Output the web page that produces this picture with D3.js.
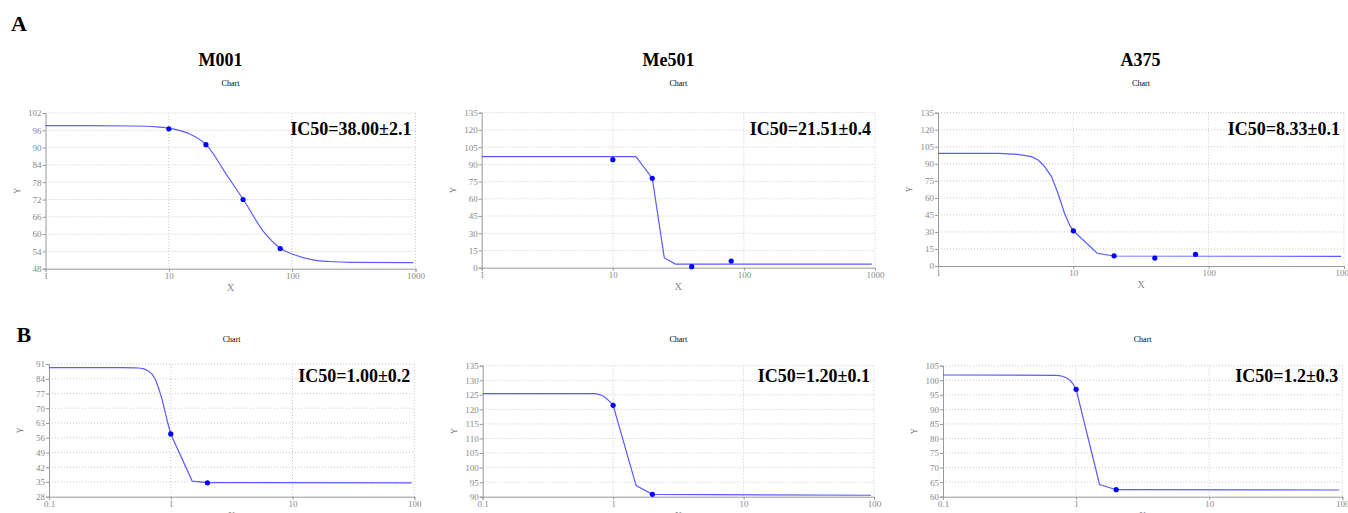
<!DOCTYPE html>
<html>
<head>
<meta charset="utf-8">
<script src="https://cdn.jsdelivr.net/npm/d3@7"></script>
<style>
  body { margin: 0; background: #fff; }
  svg { display: block; }
</style>
</head>
<body>
<div id="vis"></div>
<script>
// ---- data ----
const cellLines = ["M001", "Me501", "A375"]
const ic50Labels = ["IC50=38.00±2.1", "IC50=21.51±0.4", "IC50=8.33±0.1",
                    "IC50=1.00±0.2", "IC50=1.20±0.1", "IC50=1.2±0.3"]

// fitted curves (x, y)
const a1CurveX = [1, 2, 5, 8, 10, 15, 20, 30, 40, 60, 80, 100, 150, 200, 300, 960]
const a1CurveY = [97.6, 97.6, 97.5, 97.2, 96.7, 94.6, 91.1, 80, 72.1, 60.3, 55.1, 53.1, 51, 50.5, 50.2, 50.1]
const a2CurveX = [1, 15, 20, 24.7, 30, 944]
const a2CurveY = [96.8, 96.8, 78, 8.7, 3.2, 3.2]
const a3CurveX = [1, 2, 2.8, 3.9, 4.9, 5.5, 6.1, 6.9, 7.7, 8.6, 9.4, 10, 15, 20, 955]
const a3CurveY = [99.2, 99.2, 99.1, 98.3, 96.3, 93.3, 88, 78.7, 64, 46.4, 36, 31, 11.2, 8.8, 8.5]
const b1CurveX = [0.1, 0.4, 0.5, 0.55, 0.6, 0.65, 0.7, 0.75, 0.8, 0.85, 0.9, 0.95, 1, 1.5, 2, 95]
const b1CurveY = [89.3, 89.3, 89.2, 89.1, 88.7, 87.8, 86.3, 83.5, 79, 74, 68, 62.5, 57.8, 35.4, 34.7, 34.6]
const b2CurveX = [0.1, 0.7, 0.75, 0.8, 0.85, 0.9, 0.95, 1, 1.5, 2, 95]
const b2CurveY = [125.4, 125.4, 125.3, 125, 124.4, 123.5, 122.5, 121.4, 93.8, 90.8, 90.5]
const b3CurveX = [0.1, 0.7, 0.75, 0.8, 0.85, 0.9, 0.95, 1, 1.5, 2, 95]
const b3CurveY = [101.8, 101.7, 101.6, 101.3, 100.8, 100, 98.7, 96.9, 64.2, 62.4, 62.3]

// measured points
const a1PtsX = [10, 20, 40, 80], a1PtsY = [96.5, 91, 72, 55]
const a2PtsX = [10, 20, 40, 80], a2PtsY = [94.1, 77.8, 0.9, 5.8]
const a3PtsX = [10, 20, 40, 80], a3PtsY = [31, 9, 7, 10.3]
const b1PtsX = [1, 2], b1PtsY = [57.8, 34.6]
const b2PtsX = [1, 2], b2PtsY = [121.4, 90.8]
const b3PtsX = [1, 2], b3PtsY = [96.9, 62.4]

// axes
const xTicksA = [1, 10, 100, 1000]
const xTicksB = [0.1, 1, 10, 100]
const yTicksA1 = [48, 54, 60, 66, 72, 78, 84, 90, 96, 102]
const yTicksA2 = [0, 15, 30, 45, 60, 75, 90, 105, 120, 135]
const yTicksA3 = [0, 15, 30, 45, 60, 75, 90, 105, 120, 135]
const yTicksB1 = [28, 35, 42, 49, 56, 63, 70, 77, 84, 91]
const yTicksB2 = [90, 95, 100, 105, 110, 115, 120, 125, 130, 135]
const yTicksB3 = [60, 65, 70, 75, 80, 85, 90, 95, 100, 105]

const zip = (xs, ys) => xs.map((x, i) => [x, ys[i]])

// ---- layout ----
const panels = [
  {box: [45.5, 415.5, 113, 268.7], xt: xTicksA, yt: yTicksA1, curve: zip(a1CurveX, a1CurveY), pts: zip(a1PtsX, a1PtsY),
   label: ic50Labels[0], title: cellLines[0], titleX: 220.5, chartY: 86, icY: 135, smooth: true},
  {box: [481.7, 875, 112.7, 267.7], xt: xTicksA, yt: yTicksA2, curve: zip(a2CurveX, a2CurveY), pts: zip(a2PtsX, a2PtsY),
   label: ic50Labels[1], title: cellLines[1], titleX: 668.5, chartY: 86, icY: 135},
  {box: [938, 1344, 112.7, 266], xt: xTicksA, yt: yTicksA3, curve: zip(a3CurveX, a3CurveY), pts: zip(a3PtsX, a3PtsY),
   label: ic50Labels[2], title: cellLines[2], titleX: 1140.5, chartY: 86, icY: 135},
  {box: [49, 414.3, 364, 496.7], xt: xTicksB, yt: yTicksB1, curve: zip(b1CurveX, b1CurveY), pts: zip(b1PtsX, b1PtsY),
   label: ic50Labels[3], chartY: 342, icY: 381.7},
  {box: [482.7, 874, 365.7, 496.7], xt: xTicksB, yt: yTicksB2, curve: zip(b2CurveX, b2CurveY), pts: zip(b2PtsX, b2PtsY),
   label: ic50Labels[4], chartY: 342, icY: 381.7},
  {box: [943, 1342.3, 365.7, 496.7], xt: xTicksB, yt: yTicksB3, curve: zip(b3CurveX, b3CurveY), pts: zip(b3PtsX, b3PtsY),
   label: ic50Labels[5], chartY: 342, icY: 381.7}
]

const svg = d3.select("#vis").append("svg")
    .attr("width", 1348)
    .attr("height", 513)
    .attr("font-family", "'Liberation Serif', 'Times New Roman', serif")

svg.append("text").attr("x", 11).attr("y", 31)
    .attr("font-size", 22).attr("font-weight", "bold").text("A")
svg.append("text").attr("x", 16.5).attr("y", 342)
    .attr("font-size", 22).attr("font-weight", "bold").text("B")

panels.forEach(p => {
    let [l, r, t, b] = p.box
    let x = d3.scaleLog().domain(d3.extent(p.xt)).range([l, r])
    let y = d3.scaleLinear().domain(d3.extent(p.yt)).range([b, t])
    let g = svg.append("g")
    let cx = (l + r) / 2

    if (p.title) {
        g.append("text").attr("x", p.titleX).attr("y", 66)
            .attr("text-anchor", "middle").attr("font-size", 18).attr("font-weight", "bold")
            .text(p.title)
    }
    g.append("text").attr("x", cx).attr("y", p.chartY)
        .attr("text-anchor", "middle").attr("font-size", 8).text("Chart")

    // grid
    g.append("g").attr("stroke", "#c8c8c8").attr("stroke-dasharray", "1,2")
        .selectAll("line.h").data(p.yt.slice(1)).join("line")
        .attr("x1", l).attr("x2", r).attr("y1", d => y(d)).attr("y2", d => y(d))
    g.append("g").attr("stroke", "#c8c8c8").attr("stroke-dasharray", "1,2")
        .selectAll("line.v").data(p.xt.slice(1)).join("line")
        .attr("x1", d => x(d)).attr("x2", d => x(d)).attr("y1", t).attr("y2", b)

    // axes
    let ya = g.append("g").attr("transform", `translate(${l},0)`)
        .call(d3.axisLeft(y).tickValues(p.yt).tickSize(3).tickPadding(1).tickFormat(d3.format("d")))
    let xa = g.append("g").attr("transform", `translate(0,${b})`)
        .call(d3.axisBottom(x).tickValues(p.xt).tickSize(3).tickPadding(1).tickFormat(d => String(d)))
    ;[ya, xa].forEach(a => {
        a.select(".domain").attr("stroke", "#999")
        a.selectAll(".tick line").attr("stroke", "#999")
        a.selectAll(".tick text").attr("fill", "#888").attr("font-size", 9)
            .attr("font-family", "'Liberation Serif', serif")
    })

    g.append("text").attr("x", cx).attr("y", b + 22)
        .attr("text-anchor", "middle").attr("font-size", 10).attr("fill", "#888").text("X")
    g.append("text").attr("transform", `translate(${l - 26},${(t + b) / 2}) rotate(-90)`)
        .attr("text-anchor", "middle").attr("font-size", 8).attr("fill", "#666").text("Y")

    // fitted curve
    g.append("path")
        .attr("d", d3.line().x(d => x(d[0])).y(d => y(d[1]))
            .curve(p.smooth ? d3.curveMonotoneX : d3.curveLinear)(p.curve))
        .attr("fill", "none").attr("stroke", "#5a5aff").attr("stroke-width", 1.2)

    g.append("g").selectAll("circle").data(p.pts).join("circle")
        .attr("cx", d => x(d[0])).attr("cy", d => y(d[1])).attr("r", 2.6)
        .attr("fill", "#0000ff")

    g.append("text").attr("x", r - 4).attr("y", p.icY)
        .attr("text-anchor", "end").attr("font-size", 18).attr("font-weight", "bold")
        .text(p.label)
})
</script>
</body>
</html>
